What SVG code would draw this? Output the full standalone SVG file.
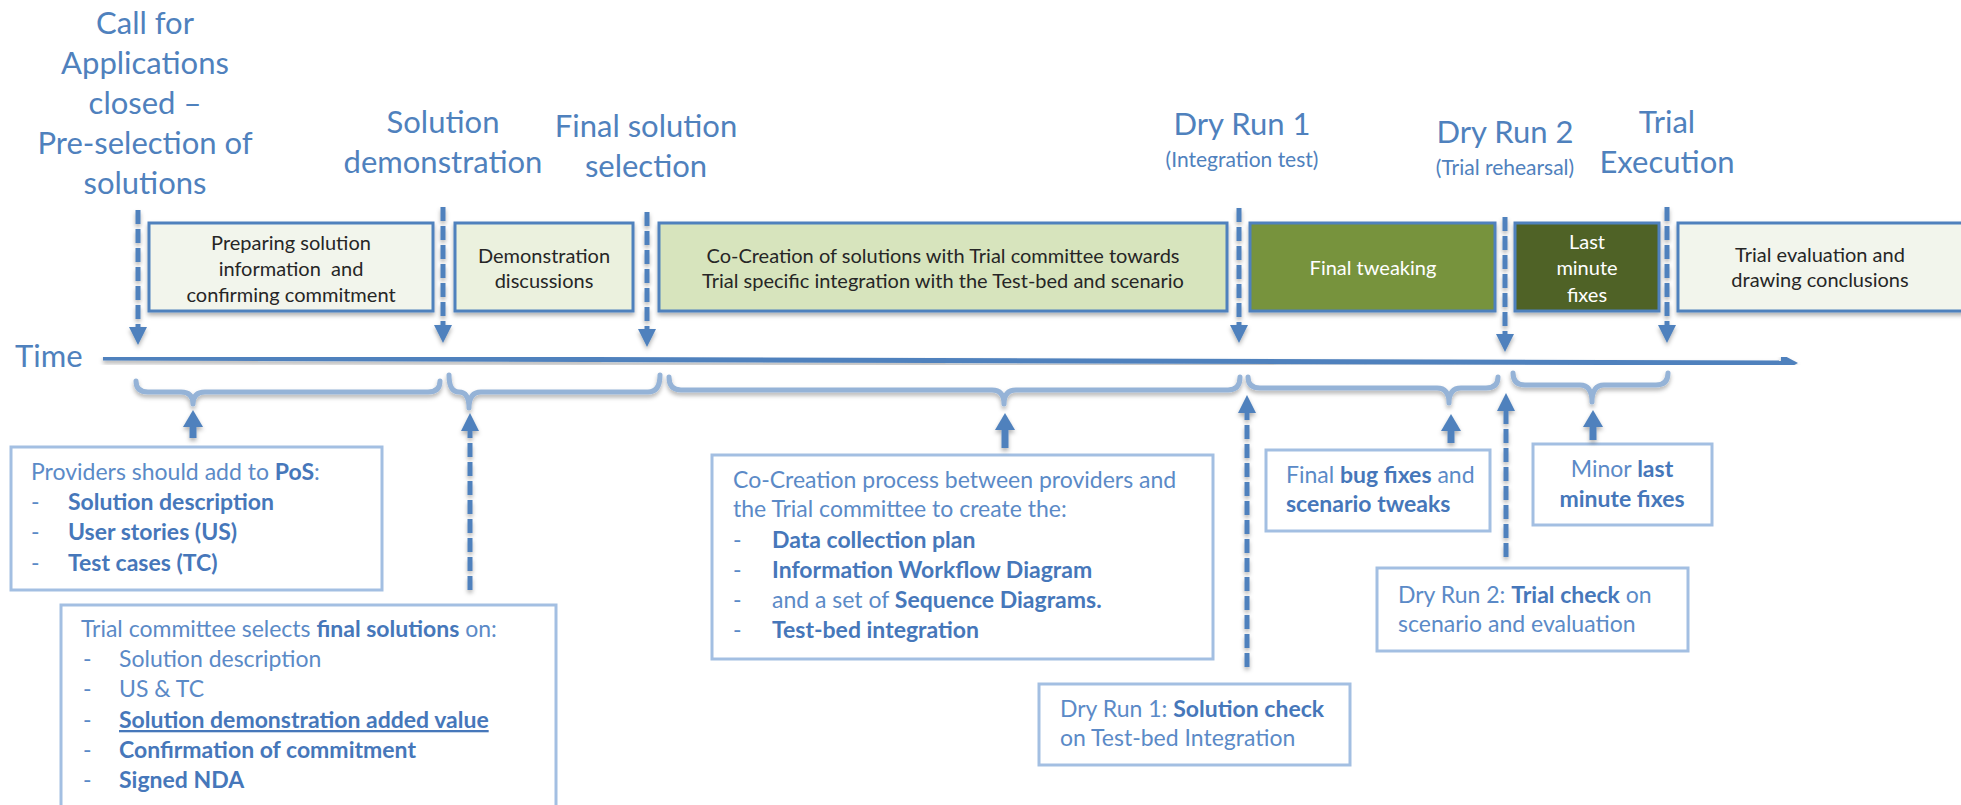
<svg xmlns="http://www.w3.org/2000/svg" width="1961" height="805" viewBox="0 0 1961 805">
<defs>
<style>
.t{font-family:Lato,'Liberation Sans',sans-serif;fill:#4f81bd;font-size:31px;text-anchor:middle}
.ts{font-size:21px}
.bx{font-family:Lato,'Liberation Sans',sans-serif;font-size:20px;fill:#262626;text-anchor:middle}
.w{fill:#ffffff}
.nt{font-family:Lato,'Liberation Sans',sans-serif;font-size:23px;fill:#5b8ac7}
.b{font-weight:bold;fill:#4677ba}
.pb{stroke:#4f81bd;stroke-width:3}
.nb{fill:#ffffff;stroke:#a3bfe2;stroke-width:3}
.dash{stroke:#4f81bd;stroke-width:5;stroke-dasharray:14 5;fill:none}
.solid{stroke:#4f81bd;stroke-width:7;fill:none}
.brace{stroke:#95b3d7;stroke-width:5;fill:none;stroke-linecap:round;stroke-linejoin:round}
</style>
<filter id="sh" x="-5%" y="-20%" width="110%" height="150%">
<feDropShadow dx="0" dy="3" stdDeviation="2" flood-color="#000" flood-opacity="0.3"/>
</filter>
<marker id="ah" markerUnits="userSpaceOnUse" markerWidth="18" markerHeight="18" refX="0" refY="9" orient="auto" viewBox="0 0 18 18">
<path d="M0,0 L18,9 L0,18 z" fill="#4f81bd"/>
</marker>
<marker id="ahs" markerUnits="userSpaceOnUse" markerWidth="17" markerHeight="20" refX="0" refY="10" orient="auto" viewBox="0 0 17 20">
<path d="M0,0 L17,10 L0,20 z" fill="#4f81bd"/>
</marker>
<marker id="aht" markerUnits="userSpaceOnUse" markerWidth="17" markerHeight="18" refX="0" refY="9" orient="auto" viewBox="0 0 17 18">
<path d="M0,0 L17,9 L0,18 z" fill="#4f81bd"/>
</marker>
</defs>
<rect width="1961" height="805" fill="#ffffff"/>

<g id="milestones">
<text class="t"><tspan x="145" y="34">Call for</tspan><tspan x="145" y="74">Applications</tspan><tspan x="145" y="114">closed –</tspan><tspan x="145" y="154">Pre-selection of</tspan><tspan x="145" y="194">solutions</tspan></text>
<text class="t"><tspan x="443" y="133">Solution</tspan><tspan x="443" y="173">demonstration</tspan></text>
<text class="t"><tspan x="646" y="137">Final solution</tspan><tspan x="646" y="177">selection</tspan></text>
<text class="t" x="1242" y="135">Dry Run 1</text>
<text class="t ts" x="1242" y="167">(Integration test)</text>
<text class="t" x="1505" y="143">Dry Run 2</text>
<text class="t ts" x="1505" y="175">(Trial rehearsal)</text>
<text class="t"><tspan x="1667" y="133">Trial</tspan><tspan x="1667" y="173">Execution</tspan></text>
<text class="t" x="15" y="367" style="text-anchor:start">Time</text>
</g>

<g id="phase-preparing">
<rect class="pb" x="149" y="223" width="284" height="88" fill="#f2f5ec" filter="url(#sh)"/>
<text class="bx"><tspan x="291" y="250">Preparing solution</tspan><tspan x="291" y="276">information&#160; and</tspan><tspan x="291" y="302">confirming commitment</tspan></text>
</g>
<g id="phase-demo">
<rect class="pb" x="455" y="223" width="178" height="88" fill="#ebf1de" filter="url(#sh)"/>
<text class="bx"><tspan x="544" y="263">Demonstration</tspan><tspan x="544" y="288">discussions</tspan></text>
</g>
<g id="phase-cocreation">
<rect class="pb" x="659" y="223" width="568" height="88" fill="#d7e4bd" filter="url(#sh)"/>
<text class="bx"><tspan x="943" y="263">Co-Creation of solutions with Trial committee towards</tspan><tspan x="943" y="288">Trial specific integration with the Test-bed and scenario</tspan></text>
</g>
<g id="phase-tweaking">
<rect class="pb" x="1250" y="223" width="245" height="88" fill="#77933c" filter="url(#sh)"/>
<text class="bx w" x="1373" y="275">Final tweaking</text>
</g>
<g id="phase-lastminute">
<rect class="pb" x="1515" y="223" width="144" height="88" fill="#4f6228" filter="url(#sh)"/>
<text class="bx w"><tspan x="1587" y="249">Last</tspan><tspan x="1587" y="275">minute</tspan><tspan x="1587" y="302">fixes</tspan></text>
</g>
<g id="phase-evaluation">
<rect class="pb" x="1678" y="223" width="300" height="88" fill="#f2f5ec" filter="url(#sh)"/>
<text class="bx"><tspan x="1820" y="262">Trial evaluation and</tspan><tspan x="1820" y="287">drawing conclusions</tspan></text>
</g>

<g id="note-pos">
<rect class="nb" x="11" y="447" width="371" height="143"/>
<text class="nt"><tspan x="31" y="480">Providers should add to <tspan class="b">PoS</tspan>:</tspan>
<tspan x="31" y="510">-</tspan><tspan x="68" y="510" class="b">Solution description</tspan>
<tspan x="31" y="540">-</tspan><tspan x="68" y="540" class="b">User stories (US)</tspan>
<tspan x="31" y="571">-</tspan><tspan x="68" y="571" class="b">Test cases (TC)</tspan></text>
</g>
<g id="note-selection">
<rect class="nb" x="61" y="605" width="495" height="210"/>
<text class="nt"><tspan x="81" y="637">Trial committee selects <tspan class="b">final solutions</tspan> on:</tspan>
<tspan x="83" y="667">-</tspan><tspan x="119" y="667">Solution description</tspan>
<tspan x="83" y="697">-</tspan><tspan x="119" y="697">US &amp; TC</tspan>
<tspan x="83" y="728">-</tspan><tspan x="119" y="728" class="b" text-decoration="underline">Solution demonstration added value</tspan>
<tspan x="83" y="758">-</tspan><tspan x="119" y="758" class="b">Confirmation of commitment</tspan>
<tspan x="83" y="788">-</tspan><tspan x="119" y="788" class="b">Signed NDA</tspan></text>
</g>
<g id="note-cocreation">
<rect class="nb" x="712" y="455" width="501" height="204"/>
<text class="nt"><tspan x="733" y="488">Co-Creation process between providers and</tspan>
<tspan x="733" y="517">the Trial committee to create the:</tspan>
<tspan x="733" y="548">-</tspan><tspan x="772" y="548" class="b">Data collection plan</tspan>
<tspan x="733" y="578">-</tspan><tspan x="772" y="578" class="b">Information Workflow Diagram</tspan>
<tspan x="733" y="608">-</tspan><tspan x="772" y="608">and a set of <tspan class="b">Sequence Diagrams.</tspan></tspan>
<tspan x="733" y="638">-</tspan><tspan x="772" y="638" class="b">Test-bed integration</tspan></text>
</g>
<g id="note-dryrun1">
<rect class="nb" x="1039" y="684" width="311" height="81"/>
<text class="nt"><tspan x="1060" y="717">Dry Run 1: <tspan class="b">Solution check</tspan></tspan><tspan x="1060" y="746">on Test-bed Integration</tspan></text>
</g>
<g id="note-bugfixes">
<rect class="nb" x="1266" y="450" width="224" height="81"/>
<text class="nt"><tspan x="1286" y="483">Final <tspan class="b">bug fixes</tspan> and</tspan><tspan x="1286" y="512" class="b">scenario tweaks</tspan></text>
</g>
<g id="note-minor">
<rect class="nb" x="1533" y="444" width="179" height="81"/>
<text class="nt" text-anchor="middle"><tspan x="1622" y="477">Minor <tspan class="b">last</tspan></tspan><tspan x="1622" y="507" class="b">minute fixes</tspan></text>
</g>
<g id="note-dryrun2">
<rect class="nb" x="1377" y="568" width="311" height="83"/>
<text class="nt"><tspan x="1398" y="603">Dry Run 2: <tspan class="b">Trial check</tspan> on</tspan><tspan x="1398" y="632">scenario and evaluation</tspan></text>
</g>

<g id="connectors">
<line x1="103" y1="358" x2="1781" y2="363" stroke="#4f81bd" stroke-width="5" marker-end="url(#aht)" filter="url(#sh)"/>
<g filter="url(#sh)">
<line class="dash" x1="138" y1="210" x2="138" y2="327" marker-end="url(#ah)"/>
<line class="dash" x1="443" y1="207" x2="443" y2="325" marker-end="url(#ah)"/>
<line class="dash" x1="647" y1="212" x2="647" y2="329" marker-end="url(#ah)"/>
<line class="dash" x1="1239" y1="208" x2="1239" y2="325" marker-end="url(#ah)"/>
<line class="dash" x1="1505" y1="217" x2="1505" y2="334" marker-end="url(#ah)"/>
<line class="dash" x1="1667" y1="207" x2="1667" y2="325" marker-end="url(#ah)"/>
</g>
<g filter="url(#sh)">
<path class="brace" d="M136,381 Q136,392 148,392 L181,392 Q193,392 193,404 Q193,392 205,392 L428,392 Q440,392 440,381"/>
<path class="brace" d="M449,375 Q449,392 459,392 L459,392 Q469,392 469,408 Q469,392 481,392 L648,392 Q660,392 660,375"/>
<path class="brace" d="M669,377 Q669,390 681,390 L992,390 Q1004,390 1004,404 Q1004,390 1016,390 L1228,390 Q1240,390 1240,377"/>
<path class="brace" d="M1248,377 Q1248,388 1260,388 L1437,388 Q1449,388 1449,403 Q1449,388 1461,388 L1486,388 Q1498,388 1498,377"/>
<path class="brace" d="M1513,373 Q1513,385 1525,385 L1580,385 Q1592,385 1592,402 Q1592,385 1604,385 L1656,385 Q1668,385 1668,373"/>
</g>
<g filter="url(#sh)">
<line class="solid" x1="193" y1="438" x2="193" y2="427" marker-end="url(#ahs)"/>
<line class="dash" x1="470" y1="590" x2="470" y2="431" marker-end="url(#ah)"/>
<line class="solid" x1="1005" y1="448" x2="1005" y2="430" marker-end="url(#ahs)"/>
<line class="dash" x1="1247" y1="667" x2="1247" y2="413" marker-end="url(#ah)"/>
<line class="solid" x1="1451" y1="443" x2="1451" y2="431" marker-end="url(#ahs)"/>
<line class="dash" x1="1506" y1="557" x2="1506" y2="411" marker-end="url(#ah)"/>
<line class="solid" x1="1593" y1="440" x2="1593" y2="427" marker-end="url(#ahs)"/>
</g>
</g>
</svg>
